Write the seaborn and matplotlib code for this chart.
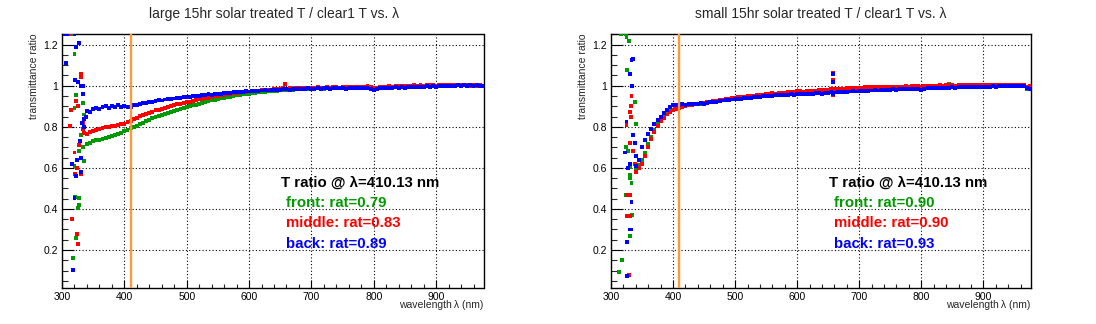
import numpy as np
import pandas as pd
import matplotlib
matplotlib.use("Agg")
import matplotlib.pyplot as plt
from matplotlib.ticker import MultipleLocator, FuncFormatter
import seaborn as sns

sns.set_theme(style="white")
plt.rcParams['font.family'] = ['Liberation Sans', 'DejaVu Sans']

# ---------------- data ----------------
wavelength = list(range(340, 980, 5))   # 340 ... 975 nm

large_back = [
    0.875, 0.870, 0.885, 0.890, 0.885, 0.895, 0.900, 0.893,
    0.902, 0.897, 0.905, 0.898, 0.903, 0.897, 0.896, 0.905,
    0.908, 0.912, 0.915, 0.918, 0.922, 0.920, 0.927, 0.930,
    0.928, 0.933, 0.935, 0.937, 0.938, 0.940, 0.942, 0.945,
    0.947, 0.946, 0.950, 0.952, 0.951, 0.955, 0.956, 0.958,
    0.957, 0.960, 0.962, 0.961, 0.964, 0.966, 0.965, 0.968,
    0.969, 0.970, 0.971, 0.973, 0.972, 0.975, 0.976, 0.974,
    0.977, 0.978, 0.977, 0.980, 0.979, 0.981, 0.980, 0.982,
    0.984, 0.981, 0.983, 0.985, 0.984, 0.986, 0.985, 0.987,
    0.986, 0.985, 0.988, 0.986, 0.987, 0.989, 0.986, 0.988,
    0.990, 0.987, 0.989, 0.986, 0.988, 0.990, 0.987, 0.989,
    0.988, 0.991, 0.989, 0.986, 0.978, 0.983, 0.987, 0.990,
    0.988, 0.991, 0.989, 0.992, 0.990, 0.993, 0.991, 0.994,
    0.992, 0.995, 0.993, 0.996, 0.994, 0.997, 0.995, 0.998,
    0.996, 0.999, 0.997, 1.000, 0.998, 1.001, 0.999, 1.002,
    1.000, 1.003, 1.001, 1.004, 1.000, 1.003, 0.998, 0.997]
large_middle = [
    0.765, 0.775, 0.780, 0.785, 0.790, 0.795, 0.797, 0.800,
    0.803, 0.806, 0.808, 0.812, 0.815, 0.822, 0.830, 0.838,
    0.845, 0.852, 0.858, 0.864, 0.869, 0.874, 0.880, 0.884,
    0.888, 0.893, 0.897, 0.901, 0.905, 0.909, 0.912, 0.916,
    0.919, 0.923, 0.926, 0.930, 0.933, 0.936, 0.939, 0.942,
    0.945, 0.948, 0.951, 0.953, 0.956, 0.958, 0.961, 0.963,
    0.965, 0.967, 0.969, 0.970, 0.972, 0.974, 0.975, 0.976,
    0.978, 0.979, 0.980, 0.981, 0.982, 0.983, 0.984, 0.990,
    0.986, 0.987, 0.986, 0.988, 0.989, 0.988, 0.990, 0.989,
    0.991, 0.990, 0.992, 0.990, 0.991, 0.993, 0.991, 0.992,
    0.994, 0.991, 0.993, 0.992, 0.994, 0.993, 0.992, 0.994,
    0.993, 0.996, 1.000, 0.995, 0.988, 0.990, 0.993, 0.996,
    0.995, 0.997, 0.996, 0.999, 0.998, 1.000, 0.999, 1.001,
    0.999, 1.002, 1.000, 1.003, 1.001, 1.004, 1.002, 1.003,
    1.001, 1.004, 1.002, 1.005, 1.003, 1.004, 1.002, 1.005,
    1.003, 1.004, 1.002, 1.001, 1.003, 1.000, 1.002, 0.999]
large_front = [
    0.715, 0.722, 0.730, 0.735, 0.738, 0.742, 0.745, 0.750,
    0.755, 0.760, 0.766, 0.772, 0.778, 0.785, 0.792, 0.799,
    0.806, 0.813, 0.820, 0.827, 0.834, 0.841, 0.847, 0.853,
    0.858, 0.864, 0.869, 0.874, 0.879, 0.883, 0.888, 0.892,
    0.896, 0.900, 0.904, 0.908, 0.912, 0.916, 0.920, 0.924,
    0.928, 0.931, 0.935, 0.938, 0.941, 0.944, 0.947, 0.950,
    0.953, 0.955, 0.958, 0.960, 0.962, 0.964, 0.966, 0.968,
    0.969, 0.971, 0.972, 0.974, 0.975, 0.976, 0.977, 0.979,
    0.978, 0.980, 0.981, 0.982, 0.983, 0.982, 0.984, 0.985,
    0.986, 0.985, 0.987, 0.988, 0.986, 0.989, 0.988, 0.990,
    0.989, 0.991, 0.990, 0.989, 0.991, 0.990, 0.992, 0.991,
    0.993, 0.994, 0.992, 0.990, 0.985, 0.988, 0.991, 0.994,
    0.993, 0.996, 0.995, 0.997, 0.996, 0.998, 0.997, 0.999,
    0.998, 1.000, 0.999, 1.002, 1.000, 1.003, 1.001, 1.002,
    1.000, 1.003, 1.001, 1.004, 1.002, 1.003, 1.001, 1.004,
    1.002, 1.003, 1.001, 1.005, 1.002, 1.000, 1.001, 0.998]

small_back = [
    0.610, 0.640, 0.700, 0.735, 0.765, 0.790, 0.812, 0.832,
    0.850, 0.866, 0.882, 0.895, 0.905, 0.908, 0.906, 0.910,
    0.908, 0.912, 0.910, 0.913, 0.911, 0.915, 0.913, 0.917,
    0.919, 0.921, 0.923, 0.926, 0.928, 0.930, 0.931, 0.933,
    0.934, 0.936, 0.937, 0.939, 0.940, 0.942, 0.943, 0.945,
    0.946, 0.948, 0.950, 0.951, 0.952, 0.953, 0.955, 0.954,
    0.956, 0.957, 0.958, 0.957, 0.959, 0.960, 0.958, 0.961,
    0.962, 0.960, 0.963, 0.964, 0.962, 0.965, 0.966, 0.968,
    0.967, 0.968, 0.970, 0.969, 0.971, 0.972, 0.973, 0.972,
    0.974, 0.975, 0.976, 0.975, 0.977, 0.978, 0.977, 0.979,
    0.980, 0.979, 0.981, 0.982, 0.981, 0.983, 0.984, 0.983,
    0.985, 0.984, 0.986, 0.985, 0.980, 0.986, 0.988, 0.987,
    0.989, 0.988, 0.990, 0.989, 0.991, 0.990, 0.992, 0.991,
    0.993, 0.992, 0.994, 0.993, 0.995, 0.994, 0.996, 0.995,
    0.994, 0.996, 0.995, 0.997, 0.996, 0.998, 0.997, 0.999,
    0.998, 1.000, 0.999, 1.001, 1.000, 0.998, 0.990, 0.985]
small_middle = [
    0.580, 0.600, 0.620, 0.660, 0.700, 0.740, 0.775, 0.805,
    0.828, 0.845, 0.860, 0.872, 0.880, 0.886, 0.892, 0.897,
    0.902, 0.905, 0.908, 0.910, 0.912, 0.914, 0.916, 0.919,
    0.921, 0.924, 0.927, 0.929, 0.932, 0.934, 0.937, 0.939,
    0.942, 0.944, 0.945, 0.947, 0.948, 0.950, 0.952, 0.953,
    0.955, 0.957, 0.960, 0.962, 0.963, 0.962, 0.965, 0.967,
    0.966, 0.969, 0.971, 0.970, 0.973, 0.974, 0.972, 0.975,
    0.976, 0.974, 0.977, 0.979, 0.978, 0.980, 0.981, 0.982,
    0.982, 0.984, 0.986, 0.985, 0.988, 0.989, 0.988, 0.990,
    0.991, 0.990, 0.992, 0.993, 0.992, 0.994, 0.993, 0.995,
    0.994, 0.993, 0.995, 0.996, 0.994, 0.996, 0.995, 0.997,
    0.996, 0.998, 0.997, 0.999, 0.995, 0.998, 1.000, 0.999,
    1.001, 1.000, 1.002, 1.001, 1.003, 1.004, 1.002, 1.001,
    1.003, 1.002, 1.004, 1.003, 1.002, 1.004, 1.003, 1.005,
    1.004, 1.002, 1.004, 1.003, 1.005, 1.004, 1.003, 1.005,
    1.004, 1.003, 1.005, 1.004, 1.006, 1.003, 0.995, 1.000]
small_front = [
    0.600, 0.615, 0.640, 0.675, 0.715, 0.752, 0.785, 0.812,
    0.833, 0.850, 0.864, 0.876, 0.884, 0.890, 0.895, 0.899,
    0.903, 0.906, 0.908, 0.910, 0.912, 0.913, 0.915, 0.918,
    0.920, 0.923, 0.925, 0.928, 0.930, 0.932, 0.934, 0.936,
    0.938, 0.940, 0.941, 0.943, 0.945, 0.946, 0.948, 0.949,
    0.951, 0.953, 0.955, 0.956, 0.957, 0.958, 0.960, 0.961,
    0.962, 0.963, 0.965, 0.964, 0.966, 0.967, 0.966, 0.968,
    0.969, 0.968, 0.970, 0.971, 0.970, 0.972, 0.973, 0.974,
    0.975, 0.976, 0.978, 0.977, 0.980, 0.981, 0.980, 0.982,
    0.983, 0.984, 0.985, 0.984, 0.986, 0.987, 0.986, 0.988,
    0.987, 0.989, 0.988, 0.990, 0.989, 0.991, 0.990, 0.992,
    0.991, 0.993, 0.992, 0.994, 0.988, 0.993, 0.995, 0.994,
    0.996, 0.995, 0.997, 0.996, 0.998, 1.010, 0.997, 0.999,
    0.998, 1.000, 0.999, 1.001, 1.000, 1.002, 1.001, 1.000,
    1.002, 1.001, 1.003, 1.002, 1.001, 1.003, 1.002, 1.004,
    1.003, 1.002, 1.004, 1.003, 1.005, 1.004, 0.985, 0.990]

# scattered points in the UV edge (and spikes), read individually
large_back_ox = [304, 308, 320, 307, 323, 328, 321, 326, 330, 334, 333, 335, 338, 332, 336, 329, 331, 324, 316, 322, 330, 320, 317]
large_back_oy = [1.25, 1.25, 1.25, 1.109, 1.19, 1.21, 1.03, 1.02, 1.0, 1.0, 0.96, 0.837, 0.85, 0.82, 0.80, 0.73, 0.65, 0.638, 0.62, 0.56, 0.58, 0.455, 0.104]
large_middle_ox = [306, 312, 330, 331, 322, 314, 313, 325, 334, 333, 336, 328, 320, 324, 321, 331, 316, 324, 325, 657]
large_middle_oy = [1.25, 1.25, 1.057, 1.044, 0.927, 0.88, 0.805, 0.90, 0.82, 0.79, 0.77, 0.71, 0.675, 0.60, 0.57, 0.57, 0.35, 0.28, 0.228, 1.01]
large_front_ox = [310, 318, 320, 322, 333, 320, 336, 330, 334, 327, 320, 336, 321, 327, 328, 325, 323, 318]
large_front_oy = [1.25, 1.25, 1.155, 0.955, 0.916, 0.89, 0.86, 0.76, 0.70, 0.68, 0.61, 0.634, 0.46, 0.455, 0.42, 0.403, 0.26, 0.162]

small_back_ox = [333, 335, 331, 334, 325, 322, 336, 338, 340, 328, 330, 333, 330, 333, 326, 326, 657, 657, 657]
small_back_oy = [1.127, 1.13, 1.057, 1.0, 0.826, 0.675, 0.76, 0.72, 0.66, 0.60, 0.62, 0.434, 0.30, 0.30, 0.239, 0.073, 1.055, 1.02, 0.96]
small_middle_ox = [333, 332, 331, 332, 325, 331, 336, 338, 325, 330, 325, 330, 329, 657, 657, 657]
small_middle_oy = [0.95, 0.90, 0.87, 0.847, 0.81, 0.72, 0.68, 0.62, 0.466, 0.466, 0.364, 0.364, 0.08, 1.062, 1.028, 0.955]
small_front_ox = [316, 324, 325, 329, 326, 338, 340, 324, 327, 331, 330, 331, 333, 324, 334, 331, 318, 313]
small_front_oy = [1.25, 1.25, 1.236, 1.216, 1.078, 0.92, 0.813, 0.70, 0.68, 0.605, 0.564, 0.55, 0.525, 0.466, 0.37, 0.268, 0.153, 0.093]

positions = ["front", "middle", "back"]
colors = {"front": "#009900", "middle": "#ff0000", "back": "#0000ff"}

ratios_large = {"front": "0.79", "middle": "0.83", "back": "0.89"}
ratios_small = {"front": "0.90", "middle": "0.90", "back": "0.93"}
ref_wavelength = 410.13

titles = ["large 15hr solar treated T / clear1 T vs. \u03bb",
          "small 15hr solar treated T / clear1 T vs. \u03bb"]


def build(series, outliers):
    frames = []
    for p in positions:
        frames.append(pd.DataFrame({"wl": wavelength, "ratio": series[p], "pos": p}))
        ox, oy = outliers[p]
        frames.append(pd.DataFrame({"wl": ox, "ratio": oy, "pos": p}))
    return pd.concat(frames, ignore_index=True)


df_large = build({"front": large_front, "middle": large_middle, "back": large_back},
                 {"front": (large_front_ox, large_front_oy),
                  "middle": (large_middle_ox, large_middle_oy),
                  "back": (large_back_ox, large_back_oy)})
df_small = build({"front": small_front, "middle": small_middle, "back": small_back},
                 {"front": (small_front_ox, small_front_oy),
                  "middle": (small_middle_ox, small_middle_oy),
                  "back": (small_back_ox, small_back_oy)})

# ---------------- figure ----------------
W, H = 1096, 324
fig = plt.figure(figsize=(W / 100, H / 100), dpi=100)
fig.patch.set_facecolor("white")

ax_rects = [[62 / W, 1 - 288 / H, 421.5 / W, 254 / H],
            [611 / W, 1 - 288 / H, 419.5 / W, 254 / H]]
title_x = [0.25, 0.749]

for i, (df, ratios) in enumerate([(df_large, ratios_large), (df_small, ratios_small)]):
    ax = fig.add_axes(ax_rects[i])
    ax.set_facecolor("white")
    sns.scatterplot(data=df, x="wl", y="ratio", hue="pos", palette=colors,
                    hue_order=positions, marker="s", s=8, linewidth=0,
                    legend=False, ax=ax, zorder=3)
    ax.axvline(ref_wavelength, color="#ff9933", lw=1.7, zorder=4)

    ax.set_xlim(300, 976)
    ax.set_ylim(0.015, 1.252)
    ax.xaxis.set_major_locator(MultipleLocator(100))
    ax.xaxis.set_minor_locator(MultipleLocator(20))
    ax.yaxis.set_major_locator(MultipleLocator(0.2))
    ax.yaxis.set_minor_locator(MultipleLocator(0.05))
    ax.yaxis.set_major_formatter(FuncFormatter(lambda v, p: f"{v:g}"))
    ax.grid(True, which="major", color="black", linestyle=(0, (1, 2)), linewidth=0.8)
    ax.set_axisbelow(True)
    ax.tick_params(axis="x", which="major", direction="in", length=6, width=0.8,
                   bottom=True, top=False, labelsize=7.5, pad=3, colors="black")
    ax.tick_params(axis="x", which="minor", direction="in", length=3, width=0.8,
                   bottom=True, top=False)
    ax.tick_params(axis="y", which="major", direction="in", length=8.6, width=0.8,
                   left=True, right=False, labelsize=7.5, pad=3, colors="black")
    ax.tick_params(axis="y", which="minor", direction="in", length=4.3, width=0.8,
                   left=True, right=False)
    for s in ax.spines.values():
        s.set_color("black")
        s.set_linewidth(1.0)
    ax.set_xlabel("")
    ax.set_ylabel("")
    ax.text(1.0, -0.068, "wavelength\u2009\u03bb (nm)", transform=ax.transAxes,
            ha="right", va="center", fontsize=7.5)
    ax.text(-0.067, 1.0, "transmittance ratio", transform=ax.transAxes,
            ha="center", va="top", rotation=90, fontsize=7.5)

    ax.text(651, 0.527, f"T ratio @ \u03bb={ref_wavelength:.2f} nm", ha="left", va="center",
            fontsize=10.8, fontweight="bold", color="black")
    ys = {"front": 0.429, "middle": 0.332, "back": 0.231}
    for p in positions:
        ax.text(659, ys[p], f"{p}: rat={ratios[p]}", ha="left", va="center",
                fontsize=10.8, fontweight="bold", color=colors[p])

    fig.text(title_x[i], 1 - 14 / H, titles[i], ha="center", va="center", fontsize=10)

fig.savefig("out.png", dpi=100, facecolor="white")
